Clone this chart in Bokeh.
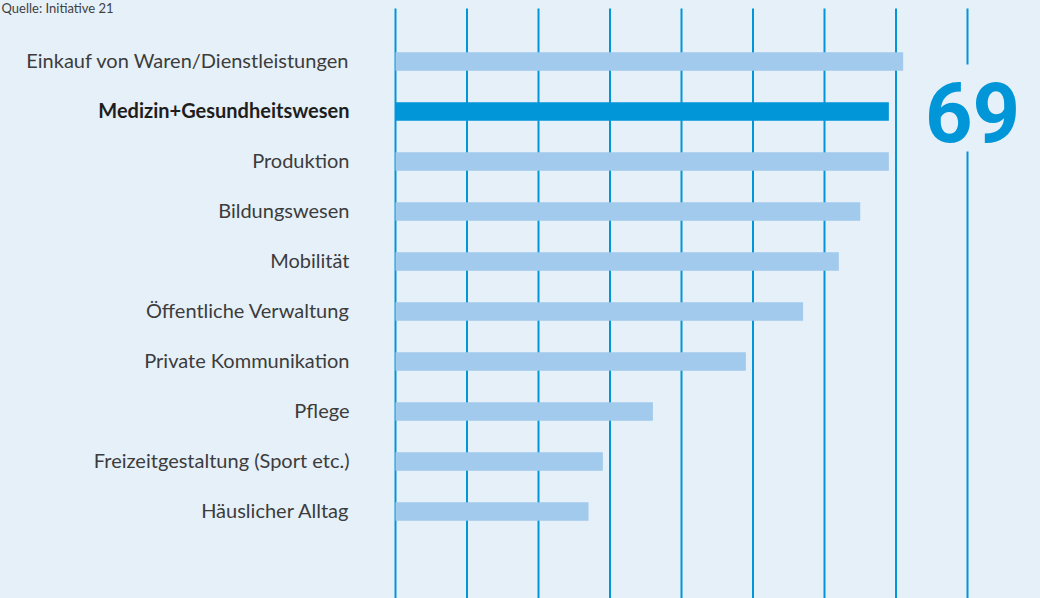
import numpy as np
from bokeh.plotting import figure
from bokeh.models import Range1d, ColumnDataSource
from bokeh.core.properties import value
from bokeh.embed import file_html
from bokeh.resources import INLINE

# ---- data ----
categories = [
    "Einkauf von Waren/Dienstleistungen",
    "Medizin+Gesundheitswesen",
    "Produktion",
    "Bildungswesen",
    "Mobilität",
    "Öffentliche Verwaltung",
    "Private Kommunikation",
    "Pflege",
    "Freizeitgestaltung (Sport etc.)",
    "Häuslicher Alltag",
]
values = [71, 69, 69, 65, 62, 57, 49, 36, 29, 27]
highlight = "Medizin+Gesundheitswesen"
ticks = [0, 10, 20, 30, 40, 50, 60, 70, 80]
source_note = "Quelle: Initiative 21"

BG = "#e6f0f9"
LIGHT = "#a1caec"
DARK = "#0096d8"
GRID = "#0096d8"

pos = list(range(len(categories)))
hi_idx = categories.index(highlight)
colors = [DARK if c == highlight else LIGHT for c in categories]
weights = ["bold" if c == highlight else "normal" for c in categories]
tcolors = ["#1e1e1e" if c == highlight else "#3c3c3c" for c in categories]

src = ColumnDataSource(dict(y=pos, v=values, c=colors, cat=categories, w=weights, tc=tcolors,
                            zero=[0] * len(pos)))

W, H = 1040, 598
px_per_unit = 7.15
x0_px = 395
x_start = -x0_px / px_per_unit
x_end = (W - x0_px) / px_per_unit
row_px = 50
top_px = 61
y_top = -top_px / row_px
y_bottom = (H - top_px) / row_px
grid_top = y_top + 8 / row_px

p = figure(width=W, height=H, output_backend="svg", toolbar_location=None,
           x_range=Range1d(x_start, x_end), y_range=Range1d(y_bottom, y_top),
           min_border=0, outline_line_color=None)
p.background_fill_color = BG
p.border_fill_color = BG
p.xaxis.visible = False
p.yaxis.visible = False
p.xgrid.visible = False
p.ygrid.visible = False

# vertical grid lines
p.segment(x0=ticks, x1=ticks, y0=[grid_top] * len(ticks), y1=[y_bottom] * len(ticks),
          line_color=GRID, line_width=2)

p.hbar(y="y", left="zero", right="v", height=0.37, fill_color="c", line_color=None, source=src)

p.text(x="zero", y="y", text="cat", source=src, x_offset=-46, y_offset=-2, text_align="right",
       text_baseline="middle", text_font=value("Lato"), text_font_size="20px",
       text_color="tc", text_font_style="w")

# highlight value
hx = ticks[-1]
hy = hi_idx
p.rect(x=[hx], y=[hy - 3.5 / row_px], width=24, height=87, width_units="screen",
       height_units="screen", fill_color=BG, line_color=None)
p.text(x=[hx], y=[hy], text=[str(values[hi_idx])], x_offset=5, y_offset=0,
       text_align="center", text_baseline="middle", text_font=value("Roboto"),
       text_font_style="bold", text_font_size="83px", text_color=DARK)

p.text(x=[x_start], y=[y_top], text=[source_note], x_offset=1, y_offset=-1,
       text_align="left", text_baseline="top", text_font=value("Lato"),
       text_font_size="13px", text_color="#404040")

html = file_html(p, INLINE)
html = html.replace("<body>", '<body style="background:%s;margin:0;overflow:hidden">' % BG)
open("out.html", "w").write(html)
